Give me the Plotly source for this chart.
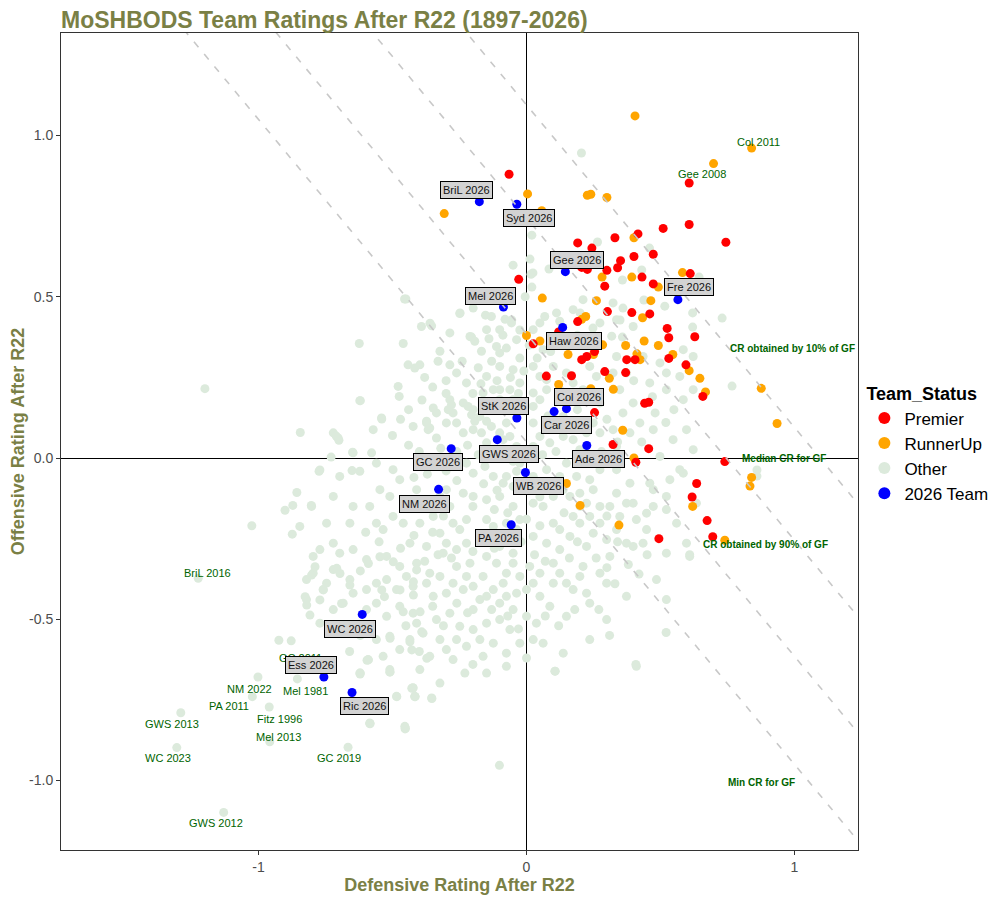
import plotly.graph_objects as go

# ---------------- data (Defensive, Offensive) ----------------
premier_ratings = [
    (-0.065, 0.880), (0.607, 0.853), (0.607, 0.724), (0.510, 0.712), (0.744, 0.669), (0.416, 0.695),
    (0.330, 0.683), (0.191, 0.667), (0.244, 0.651), (0.401, 0.625), (0.351, 0.612), (0.227, 0.585),
    (0.206, 0.591), (0.300, 0.582), (0.340, 0.590), (0.431, 0.561), (0.611, 0.572), (0.292, 0.533),
    (0.473, 0.540), (-0.029, 0.554), (0.473, 0.632), (0.393, 0.451), (0.460, 0.447), (0.302, 0.454),
    (0.191, 0.423), (0.120, 0.391), (0.525, 0.402), (0.531, 0.373), (0.628, 0.376), (0.025, 0.354),
    (0.206, 0.305), (0.225, 0.315), (0.254, 0.330), (0.374, 0.305), (0.405, 0.305), (0.531, 0.309),
    (0.595, 0.289), (0.292, 0.268), (0.370, 0.265), (0.074, 0.254), (0.168, 0.255), (0.658, 0.191),
    (0.441, 0.170), (0.456, 0.173), (0.254, 0.141), (0.323, 0.042), (0.456, 0.029), (0.740, -0.011),
    (0.408, -0.013), (0.635, -0.079), (0.618, -0.121), (0.674, -0.194), (0.695, -0.244), (0.494, -0.250),
]
runnerup_ratings = [
    (0.405, 1.061), (0.698, 0.913), (0.840, 0.961), (0.004, 0.819), (-0.307, 0.758), (0.227, 0.815),
    (0.240, 0.818), (0.300, 0.808), (0.057, 0.767), (0.401, 0.683), (0.282, 0.561), (0.393, 0.561),
    (0.582, 0.575), (0.492, 0.530), (0.261, 0.488), (0.059, 0.496), (0.464, 0.488), (0.206, 0.430),
    (0.221, 0.439), (0.433, 0.435), (0.000, 0.380), (0.050, 0.363), (0.155, 0.321), (0.250, 0.321),
    (0.370, 0.349), (0.439, 0.363), (0.492, 0.349), (0.412, 0.323), (0.424, 0.305), (0.546, 0.321),
    (0.607, 0.271), (0.647, 0.247), (0.309, 0.247), (0.324, 0.213), (0.668, 0.205), (0.876, 0.216),
    (0.935, 0.107), (0.120, 0.228), (0.359, 0.086), (0.401, 0.000), (0.149, -0.079), (0.200, -0.147),
    (0.345, -0.208), (0.620, -0.150), (0.840, -0.060), (0.834, -0.087), (0.740, -0.255), (0.240, 0.215),
    (0.284, 0.351),
]
other_ratings = [
    # upper part of the cloud
    (0.205, 0.946), (0.265, 0.670), (0.459, 0.651), (0.358, 0.552), (0.620, 0.450), (0.730, 0.434),
    (0.516, 0.471), (0.438, 0.490), (0.323, 0.481), (0.349, 0.428), (0.248, 0.403), (0.318, 0.378),
    (0.200, 0.450), (0.084, 0.586), (0.020, 0.691), (0.013, 0.617), (0.024, 0.574), (-0.050, 0.598),
    (0.020, 0.530), (-0.005, 0.500), (-0.055, 0.428), (-0.025, 0.397), (-0.088, 0.381), (-0.248, 0.450),
    (-0.153, 0.443), (-0.360, 0.418), (-0.455, 0.493), (-0.205, 0.375), (0.190, 0.381), (0.270, 0.350),
    (0.358, 0.375), (0.620, 0.406), (0.430, 0.583), (0.644, 0.561), (0.360, 0.465), (0.767, 0.223),
    (0.860, -0.037), (0.860, -0.056), (0.017, 0.570),
    # core, first pass
    (-0.450, 0.493), (-0.249, 0.448), (-0.199, 0.465), (-0.131, 0.439), (-0.056, 0.419), (0.068, 0.439),
    (0.112, 0.450), (0.124, 0.424), (-0.624, 0.355), (-0.460, 0.355), (-0.392, 0.408), (-0.354, 0.410),
    (-0.323, 0.331), (-0.286, 0.388), (-0.211, 0.377), (-0.193, 0.362), (-0.168, 0.331), (-0.112, 0.346),
    (-0.100, 0.326), (-0.075, 0.341), (-0.025, 0.310), (0.062, 0.336), (-0.442, 0.289), (-0.417, 0.279),
    (-0.398, 0.289), (-0.286, 0.289), (-0.261, 0.264), (-0.224, 0.233), (-0.149, 0.253), (-0.100, 0.284),
    (-0.050, 0.274), (-0.025, 0.233), (0.025, 0.284), (0.050, 0.253), (0.075, 0.243), (0.100, 0.284),
    (0.236, 0.284), (0.261, 0.253), (-0.622, 0.178), (-0.479, 0.222), (-0.475, 0.191), (-0.348, 0.155),
    (-0.336, 0.140), (-0.286, 0.181), (-0.274, 0.140), (-0.236, 0.171), (-0.199, 0.150), (-0.162, 0.202),
    (-0.100, 0.212), (-0.062, 0.212), (0.025, 0.202), (0.050, 0.181), (0.075, 0.212), (0.274, 0.171),
    (0.348, 0.212), (0.398, 0.171), (-0.721, 0.078), (-0.703, 0.062), (-0.647, 0.016), (-0.578, 0.016),
    (-0.541, 0.124), (-0.572, 0.088), (-0.423, 0.098), (-0.373, 0.109), (-0.367, 0.088), (-0.336, 0.062),
    (-0.299, 0.109), (-0.261, 0.109), (-0.236, 0.078), (-0.199, 0.088), (-0.168, 0.078), (-0.149, 0.047),
    (-0.100, 0.078), (-0.075, 0.109), (0.025, 0.109), (0.050, 0.067), (0.087, 0.047), (0.137, 0.067),
    (0.249, 0.109), (0.274, 0.078), (0.323, 0.088), (0.386, 0.078), (0.423, 0.109), (-0.774, -0.041),
    (-0.697, -0.057), (-0.622, -0.041), (-0.560, -0.016), (-0.498, -0.036), (-0.473, -0.067), (-0.224, -0.016),
    (-0.199, -0.047), (-0.155, -0.026), (-0.124, -0.057), (-0.075, -0.057), (-0.087, -0.078), (0.075, -0.036),
    (0.124, -0.057), (0.149, -0.016), (0.187, -0.057), (0.236, -0.067), (0.274, -0.036), (0.336, -0.036),
    (0.386, -0.078), (0.460, -0.078), (0.535, -0.067), (0.585, -0.047), (-0.802, -0.150), (-0.721, -0.119),
    (-0.647, -0.150), (-0.585, -0.150), (-0.547, -0.098), (-0.510, -0.119), (-0.348, -0.181), (-0.286, -0.150),
    (-0.236, -0.109), (-0.199, -0.119), (-0.149, -0.129), (-0.100, -0.119), (-0.050, -0.150), (0.025, -0.140),
    (0.062, -0.150), (0.100, -0.119), (0.174, -0.181), (0.274, -0.150), (0.348, -0.181), (0.398, -0.140),
    (0.448, -0.171), (0.522, -0.160), (-0.846, -0.212), (-0.746, -0.202), (-0.721, -0.264), (-0.659, -0.202),
    (-0.647, -0.284), (-0.560, -0.202), (-0.535, -0.222), (-0.435, -0.264), (-0.373, -0.274), (-0.323, -0.233),
    (-0.224, -0.264), (-0.174, -0.243), (-0.100, -0.274), (-0.050, -0.295), (0.025, -0.243), (0.075, -0.264),
    (0.124, -0.284), (0.224, -0.274), (0.311, -0.305), (0.398, -0.274), (0.522, -0.295), (-0.796, -0.357),
    (-0.721, -0.346), (-0.659, -0.377), (-0.597, -0.315), (-0.522, -0.305), (-0.473, -0.336), (-0.410, -0.326),
    (-0.361, -0.357), (-0.311, -0.295), (-0.261, -0.336), (-0.211, -0.326), (-0.162, -0.367), (-0.075, -0.357),
    (0.012, -0.336), (0.050, -0.357), (0.100, -0.326), (0.149, -0.388), (0.211, -0.336), (0.274, -0.357),
    (0.299, -0.388), (0.485, -0.377), (0.609, -0.305), (-0.821, -0.439), (-0.759, -0.408), (-0.684, -0.450),
    (-0.647, -0.419), (-0.560, -0.450), (-0.485, -0.408), (-0.423, -0.481), (-0.348, -0.429), (-0.299, -0.419),
    (-0.286, -0.481), (-0.236, -0.408), (-0.199, -0.470), (-0.174, -0.439), (-0.100, -0.450), (-0.037, -0.419),
    (0.087, -0.460), (0.149, -0.491), (0.236, -0.450), (0.299, -0.501), (0.373, -0.429), (0.522, -0.439),
    (-0.672, -0.532), (-0.560, -0.563), (-0.510, -0.553), (-0.435, -0.563), (-0.386, -0.543), (-0.361, -0.615),
    (-0.323, -0.563), (-0.274, -0.625), (-0.261, -0.563), (-0.199, -0.532), (-0.162, -0.615), (-0.124, -0.574),
    (-0.062, -0.532), (0.025, -0.563), (0.062, -0.574), (0.137, -0.605), (0.236, -0.563), (0.410, -0.646),
    (-0.622, -0.667), (-0.591, -0.625), (-0.510, -0.656), (-0.398, -0.656), (-0.323, -0.698), (-0.230, -0.667),
    (-0.149, -0.667), (-0.075, -0.605), (0.106, -0.661), (-0.585, -0.822), (-0.485, -0.739), (-0.423, -0.713),
    (-0.417, -0.739), (-0.354, -0.744), (-0.454, -0.832),
    # core, second pass
    (-0.373, 0.114), (-0.361, 0.093), (-0.280, 0.165), (-0.292, 0.150), (-0.218, 0.160), (-0.205, 0.134),
    (-0.193, 0.114), (-0.174, 0.129), (-0.149, 0.114), (-0.131, 0.098), (-0.087, 0.057), (-0.062, 0.067),
    (-0.037, 0.036), (-0.025, -0.016), (-0.037, -0.041), (-0.050, -0.088), (0.025, 0.036), (0.025, -0.057),
    (0.012, -0.088), (0.050, -0.078), (0.068, -0.098), (0.100, -0.083), (0.137, -0.098), (0.162, -0.119),
    (0.199, -0.109), (0.224, -0.140), (0.249, -0.098), (0.236, -0.181), (0.274, -0.202), (0.311, -0.150),
    (0.336, -0.109), (0.373, -0.140), (0.410, -0.191), (0.448, -0.222), (0.473, -0.150), (0.100, -0.202),
    (0.124, -0.222), (0.162, -0.243), (0.199, -0.202), (0.249, -0.233), (0.299, -0.253), (0.336, -0.222),
    (0.373, -0.264), (0.435, -0.264), (-0.149, -0.191), (-0.124, -0.212), (-0.075, -0.202), (-0.037, -0.222),
    (-0.025, -0.191), (-0.274, -0.202), (-0.249, -0.222), (-0.224, -0.191), (-0.299, -0.264), (-0.261, -0.284),
    (-0.323, -0.119), (-0.299, -0.098), (-0.373, -0.140), (-0.410, -0.098), (-0.435, -0.150), (-0.460, -0.202),
    (-0.498, -0.181), (-0.398, -0.202), (-0.149, -0.305), (-0.112, -0.326), (-0.050, -0.326), (-0.025, -0.367),
    (-0.087, -0.388), (-0.124, -0.408), (-0.149, -0.429), (-0.075, -0.429), (0.000, -0.408), (0.025, -0.388),
    (0.050, -0.429), (0.100, -0.388), (0.124, -0.357), (0.174, -0.408), (0.199, -0.367), (0.224, -0.419),
    (-0.373, -0.388), (-0.323, -0.367), (-0.274, -0.388), (-0.224, -0.367), (-0.199, -0.398), (-0.423, -0.398),
    (-0.448, -0.367), (-0.522, -0.377), (-0.560, -0.388), (-0.597, -0.408), (-0.473, -0.460), (-0.522, -0.491),
    (-0.597, -0.470), (-0.410, -0.512), (-0.336, -0.501), (-0.249, -0.522), (-0.149, -0.512), (-0.100, -0.501),
    (-0.050, -0.470), (0.000, -0.491), (0.037, -0.512), (-0.025, -0.574), (-0.075, -0.646), (-0.224, -0.584),
    (-0.174, -0.563), (-0.299, -0.594), (-0.473, -0.594), (-0.535, -0.615), (-0.697, -0.295), (-0.771, -0.284),
    (-0.796, -0.305), (-0.821, -0.377), (-0.746, -0.388), (-0.721, -0.470), (-0.771, -0.512), (0.124, 0.088),
    (0.174, 0.057), (0.224, 0.078), (0.199, 0.026), (0.336, 0.036), (0.473, 0.088), (0.547, 0.057),
    (0.597, 0.088), (0.622, 0.026), (0.498, 0.005), (0.124, 0.212), (0.174, 0.233), (0.149, 0.264),
    (0.211, 0.212), (0.311, 0.253), (0.373, 0.264), (0.460, 0.233), (0.522, 0.212), (0.585, 0.181),
    (0.622, 0.212), (0.572, 0.253), (0.137, 0.129), (0.025, 0.160), (-0.025, 0.150), (-0.050, 0.181),
    (-0.100, 0.181), (-0.124, 0.212), (-0.149, 0.398), (-0.100, 0.398), (-0.037, 0.367), (0.025, 0.398),
    (0.050, 0.419), (0.174, 0.460), (0.211, 0.491), (0.274, 0.419), (0.336, 0.429), (0.398, 0.408),
    (0.435, 0.315), (0.498, 0.295), (0.522, 0.264), (0.585, 0.336), (0.622, 0.315), (0.336, 0.315),
    (0.323, 0.264), (0.473, -0.098), (0.522, -0.119), (0.560, -0.202), (0.597, -0.264), (0.634, -0.140),
    (0.572, -0.036),
    # core, third pass (dense middle)
    (-0.24, 0.30), (-0.18, 0.28), (-0.13, 0.30), (-0.06, 0.25), (-0.01, 0.27), (0.04, 0.31), (0.09, 0.33),
    (-0.17, 0.23), (-0.11, 0.24), (-0.20, 0.20), (-0.03, 0.20), (0.01, 0.35), (-0.14, 0.37), (-0.08, 0.43),
    (-0.30, 0.24), (-0.35, 0.22), (-0.38, 0.25), (-0.33, 0.30), (-0.44, 0.04), (-0.40, 0.02), (-0.36, 0.00),
    (-0.32, 0.03), (-0.26, 0.02), (-0.22, 0.04), (-0.18, 0.01), (-0.13, 0.02), (-0.09, 0.00), (-0.05, -0.01),
    (0.06, 0.01), (0.11, 0.02), (0.16, 0.09), (0.08, 0.13), (0.19, 0.15), (-0.42, -0.06), (-0.37, -0.05),
    (-0.30, -0.04), (-0.26, -0.07), (-0.16, -0.08), (-0.11, -0.10), (0.05, -0.12), (-0.47, 0.12), (-0.50, 0.07),
    (-0.44, 0.15), (-0.39, 0.18), (-0.30, 0.20), (-0.38, -0.32), (-0.33, -0.30), (-0.28, -0.31), (-0.20, -0.29),
    (-0.15, -0.25), (-0.12, -0.28), (-0.07, -0.25), (-0.02, -0.26), (0.03, -0.30), (0.07, -0.32), (0.16, -0.31),
    (0.19, -0.26), (0.26, -0.31), (0.30, -0.34), (0.33, -0.39), (0.38, -0.33), (0.42, -0.36), (0.45, -0.30),
    (-0.20, -0.15), (-0.12, -0.16), (-0.07, -0.17), (0.00, -0.19), (0.05, -0.21), (0.14, -0.17), (0.20, -0.15),
    (0.30, -0.18), (0.34, -0.26), (-0.31, -0.18), (-0.35, -0.23), (-0.42, -0.24), (-0.47, -0.28), (-0.55, -0.26),
    (-0.60, -0.23), (-0.62, -0.35), (-0.35, -0.46), (-0.31, -0.52), (-0.26, -0.45), (-0.22, -0.48), (-0.13, -0.47),
    (-0.07, -0.49), (-0.03, -0.53), (0.07, -0.49), (0.12, -0.52), (0.18, -0.47), (0.27, -0.47), (0.31, -0.55),
    (-0.45, -0.52), (-0.53, -0.43), (-0.62, -0.55), (-0.66, -0.60), (-0.40, -0.60), (-0.20, -0.64), (0.00, -0.62),
    (0.30, 0.12), (0.36, 0.14), (0.43, 0.05), (0.48, 0.14), (0.52, 0.11), (0.40, 0.24), (0.47, 0.19),
    (0.55, 0.15), (0.34, 0.05), (0.28, 0.02),
    # lower-left part of the cloud
    (-0.789, -0.337), (-0.802, -0.363), (-0.708, -0.342), (-0.696, -0.358), (-0.758, -0.409), (-0.826, -0.430),
    (-0.771, -0.440), (-0.820, -0.456), (-0.808, -0.487), (-0.690, -0.451), (-0.659, -0.394), (-0.590, -0.327),
    (-0.547, -0.306), (-0.497, -0.322), (-0.410, -0.347), (-0.422, -0.384), (-0.540, -0.409), (-0.472, -0.409),
    (-0.422, -0.425), (-0.460, -0.477), (-0.397, -0.477), (-0.391, -0.539), (-0.509, -0.559), (-0.435, -0.570),
    (-0.428, -0.595), (-0.372, -0.621), (-0.590, -0.626), (-0.621, -0.670), (-0.509, -0.663), (-0.484, -0.740),
    (-0.428, -0.714), (-0.416, -0.740), (-0.584, -0.823), (-0.453, -0.840),
    # outlying seasons
    (-1.200, 0.215), (0.609, -0.300), (0.521, -0.541), (0.408, -0.640), (0.107, -0.661), (-0.101, -0.953),
    (-0.452, -0.838), (-0.584, -0.824), (-0.353, -0.746), (-0.424, -0.712), (-0.416, -0.740), (-0.510, -0.664),
    (-0.595, -0.627), (-0.620, -0.667), (-0.924, -0.565), (-0.878, -0.567), (-1.002, -0.679), (-0.855, -0.685),
    (-0.960, -0.772), (-1.023, -0.740), (-1.290, -0.790), (-1.305, -0.898), (-0.958, -0.880), (-1.130, -1.099),
    (-0.666, -0.897), (-1.225, -0.373), (-1.025, -0.210), (-0.901, -0.162), (-0.872, -0.147), (-0.857, -0.107),
    (-0.803, -0.147), (-0.874, -0.236), (-0.729, 0.003), (-0.771, -0.037), (-0.844, 0.079), (-0.710, 0.068),
    (-0.700, 0.055), (-0.649, 0.018), (-0.651, -0.039), (-0.620, 0.178), (-0.540, 0.121),
]

team2026_names = ["BriL 2026", "Syd 2026", "Gee 2026", "Fre 2026", "Mel 2026", "Haw 2026", "StK 2026",
                  "Col 2026", "Car 2026", "GWS 2026", "GC 2026", "Ade 2026", "WB 2026", "NM 2026",
                  "PA 2026", "WC 2026", "Ess 2026", "Ric 2026"]
team2026_def = [-0.176, -0.036, 0.145, 0.565, -0.086, 0.135, -0.036, 0.149, 0.103, -0.109, -0.281, 0.225,
                -0.004, -0.328, -0.057, -0.613, -0.756, -0.651]
team2026_off = [0.795, 0.787, 0.578, 0.491, 0.468, 0.405, 0.124, 0.153, 0.144, 0.057, 0.029, 0.039,
                -0.045, -0.097, -0.207, -0.485, -0.679, -0.727]

hist_names = ["Col 2011", "Gee 2008", "BriL 2016", "GC 2011", "NM 2022", "Mel 1981", "PA 2011",
              "Fitz 1996", "GWS 2013", "Mel 2013", "WC 2023", "GC 2019", "GWS 2012"]

cr_intercepts = [0.05, 0.385, 0.745, 1.095]
cr_texts = ["CR obtained by 10% of GF", "Median CR for GF", "CR obtained by 90% of GF", "Min CR for GF"]

x_ticks = [-1, 0, 1]
x_ticklabels = ["-1", "0", "1"]
y_ticks = [-1.0, -0.5, 0.0, 0.5, 1.0]
y_ticklabels = ["-1.0", "-0.5", "0.0", "0.5", "1.0"]

# ---------------- layout helpers (text positions in data units) ----------------
label2026_pos = [(-0.223, 0.832), (0.010, 0.745), (0.187, 0.614), (0.607, 0.530), (-0.135, 0.504),
                 (0.178, 0.362), (-0.085, 0.161), (0.195, 0.190), (0.148, 0.102), (-0.065, 0.012),
                 (-0.331, -0.013), (0.267, -0.004), (0.043, -0.088), (-0.379, -0.141), (-0.104, -0.249),
                 (-0.659, -0.531), (-0.805, -0.641), (-0.603, -0.770)]
hist_pos = [(0.865, 0.981), (0.656, 0.881), (-1.190, -0.358), (-0.845, -0.619), (-1.035, -0.716),
            (-0.823, -0.722), (-1.110, -0.769), (-0.920, -0.810), (-1.324, -0.825), (-0.926, -0.866),
            (-1.339, -0.931), (-0.700, -0.931), (-1.159, -1.133)]
cr_pos = [(0.993, 0.341), (0.959, -0.003), (0.890, -0.267), (0.877, -1.005)]

FONT = "Liberation Sans, Arial, sans-serif"
OLIVE = "#7A8045"
DKGREEN = "#006400"

fig = go.Figure()

def add_points(pairs, name, color, rank):
    fig.add_trace(go.Scatter(
        x=[p[0] for p in pairs], y=[p[1] for p in pairs], mode="markers", name=name,
        marker=dict(color=color, size=9, line=dict(width=0)), legendrank=rank, hoverinfo="skip"))

add_points(other_ratings, "Other", "#DCEADC", 3)
add_points(runnerup_ratings, "RunnerUp", "#FFA500", 2)
add_points(premier_ratings, "Premier", "#FF0000", 1)
fig.add_trace(go.Scatter(x=team2026_def, y=team2026_off, mode="markers", name="2026 Team",
                         marker=dict(color="#0000FF", size=9, line=dict(width=0)), legendrank=4,
                         hoverinfo="skip"))

# combined-rating reference lines (Off + Def = c)
for c in cr_intercepts:
    fig.add_trace(go.Scatter(x=[-2.5, 2.5], y=[c + 2.5, c - 2.5], mode="lines", showlegend=False,
                             line=dict(color="#C8C8C8", width=1.6, dash="7px,9px"), hoverinfo="skip"))

ann = []
for name, (lx, ly) in zip(hist_names, hist_pos):
    ann.append(dict(x=lx, y=ly, xref="x", yref="y", text=name, showarrow=False,
                    font=dict(family=FONT, size=11, color=DKGREEN)))
for t, (lx, ly) in zip(cr_texts, cr_pos):
    ann.append(dict(x=lx, y=ly, xref="x", yref="y", text="<b>" + t + "</b>", showarrow=False,
                    font=dict(family=FONT, size=10, color=DKGREEN)))
for name, (lx, ly) in zip(team2026_names, label2026_pos):
    ann.append(dict(x=lx, y=ly, xref="x", yref="y", text=name, showarrow=False,
                    font=dict(family=FONT, size=11, color="#111111"), bgcolor="#D3D3D3",
                    bordercolor="#000000", borderwidth=1, borderpad=2))

# the page adds an 8px body margin, so the figure margins are reduced by 8px on top/left
fig.update_layout(
    width=1000, height=900,
    margin=dict(l=53, r=150, t=25, b=58),
    paper_bgcolor="white", plot_bgcolor="white",
    font=dict(family=FONT),
    title=dict(text="<b>MoSHBODS Team Ratings After R22 (1897-2026)</b>", x=0, xref="paper",
               xanchor="left", y=1 - 12 / 900, yref="container", yanchor="middle",
               font=dict(family=FONT, size=23, color=OLIVE)),
    xaxis=dict(range=[-1.737, 1.237], tickvals=x_ticks, ticktext=x_ticklabels, showgrid=False,
               automargin=False,
               zeroline=True, zerolinecolor="#000000", zerolinewidth=1,
               showline=True, mirror=True, linecolor="#333333", linewidth=1,
               ticks="outside", ticklen=4, tickcolor="#333333",
               tickfont=dict(family=FONT, size=14, color="#4D4D4D"),
               title=dict(text="<b>Defensive Rating After R22</b>", standoff=4,
                          font=dict(family=FONT, size=18, color=OLIVE))),
    yaxis=dict(range=[-1.2155, 1.318], tickvals=y_ticks, ticktext=y_ticklabels, showgrid=False,
               automargin=False,
               zeroline=True, zerolinecolor="#000000", zerolinewidth=1,
               showline=True, mirror=True, linecolor="#333333", linewidth=1,
               ticks="outside", ticklen=4, tickcolor="#333333",
               tickfont=dict(family=FONT, size=14, color="#4D4D4D"),
               title=dict(text="<b>Offensive Rating After R22</b>", standoff=6,
                          font=dict(family=FONT, size=18, color=OLIVE))),
    legend=dict(title=dict(text="<b>Team_Status</b>", font=dict(family=FONT, size=18, color="#000000")),
                font=dict(family=FONT, size=17, color="#000000"), x=1.008, xanchor="left",
                y=0.497, yanchor="middle", bgcolor="rgba(0,0,0,0)", itemsizing="constant",
                tracegroupgap=0),
    annotations=ann,
    showlegend=True,
)

fig.write_html("out.html", config={"displayModeBar": False})
